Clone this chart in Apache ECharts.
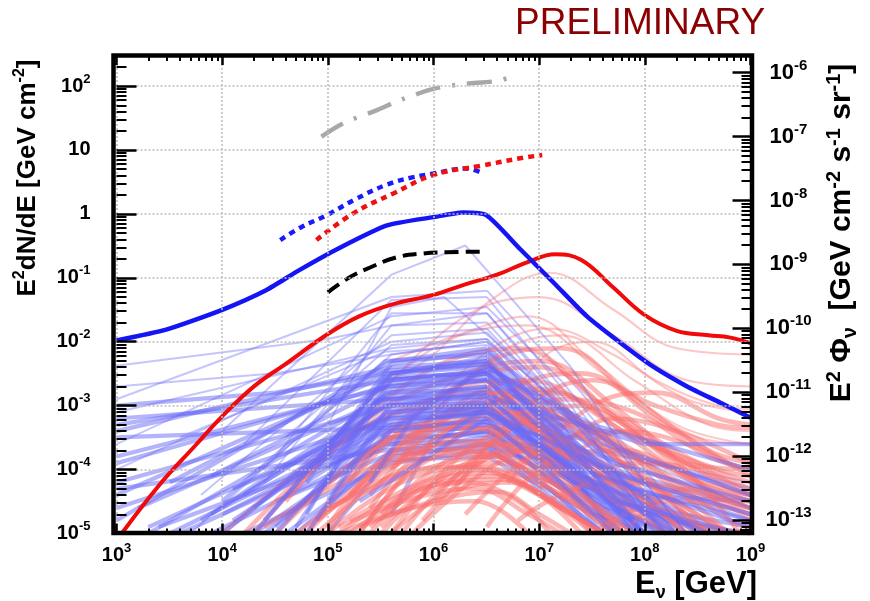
<!DOCTYPE html>
<html><head><meta charset="utf-8">
<script src="https://cdn.jsdelivr.net/npm/echarts@6/dist/echarts.min.js"></script>
<style>html,body{margin:0;padding:0;background:#fff}#c{width:870px;height:601px}</style>
</head><body><div id="c"></div>
<script>
// ---------- tick values ----------
const xTicks = [1e3, 1e4, 1e5, 1e6, 1e7, 1e8, 1e9];
const yTicks = [1e-5, 1e-4, 1e-3, 1e-2, 1e-1, 1, 10, 100];
const y2Ticks = [1e-13, 1e-12, 1e-11, 1e-10, 1e-9, 1e-8, 1e-7, 1e-6];

// ---------- main curves [E (GeV), E^2 dN/dE] ----------
const blueSolid = [[1e3,0.0105],[2950,0.0155],[1e4,0.0316],[26300,0.0646],[53700,0.132],[1.26e5,0.288],[3.63e5,0.66],[1e6,0.89],[1.9e6,1.05],[3.16e6,0.955],[6.6e6,0.282],[1.38e7,0.083],[2.82e7,0.0251],[5.9e7,0.00955],[1.2e8,0.00407],[2.51e8,0.002],[5.25e8,0.0011],[1e9,0.000646]];
const redSolid = [[1.12e3,1e-5],[2.51e3,5.6e-5],[5.6e3,2.4e-4],[1e4,6.8e-4],[2e4,2e-3],[4e4,4.5e-3],[1e5,0.0132],[2e5,0.0251],[4e5,0.038],[1e6,0.054],[2e6,0.079],[4e6,0.112],[7.9e6,0.178],[1.41e7,0.234],[2.51e7,0.19],[5e7,0.071],[1e8,0.026],[2e8,0.0148],[4e8,0.0126],[6.3e8,0.0117],[1e9,0.0095]];
const blackDashed = [[1e5,0.059],[1.58e5,0.1],[2.51e5,0.145],[4.47e5,0.209],[7.9e5,0.24],[1.32e6,0.251],[3.16e6,0.257]];
const blueDotted = [[3.55e4,0.39],[5.6e4,0.62],[9.8e4,0.955],[1.78e5,1.66],[3.63e5,2.88],[6.3e5,3.72],[1e6,4.27],[2e6,5.13],[2.88e6,4.37]];
const redDotted = [[7.8e4,0.39],[1.74e5,1.02],[4.17e5,2.09],[1e6,4.07],[2.75e6,5.62],[6.6e6,7.41],[1.07e7,8.32]];
const grayDashDot = [[8.7e4,16.2],[1.41e5,26.3],[2.88e5,41.7],[5e5,61.7],[1.02e6,91],[1.86e6,107],[3.98e6,120],[5.9e6,145]];

// ---------- individual source spectra (thin lines) ----------
const blueSources = [
 [[1e3,4.2e-3],[1e5,1.1e-2],[4e5,1.8e-2],[3.2e6,2.8e-2],[2e7,1e-3],[1.26e8,1e-5]],
 [[1e3,1.26e-3],[4e5,5e-2],[3.2e6,6.3e-2],[2.5e7,1.6e-3],[3.2e8,1e-5]],
 [[1e3,7.9e-4],[4e5,7.9e-3],[3.2e6,1.1e-2],[4e7,2.5e-4],[1e9,2.5e-5]],
 [[1e3,4e-4],[4e5,4e-3],[3.2e6,5e-3],[3.2e7,1e-4],[1.6e8,1e-5]],
 [[1e3,2.5e-4],[4e5,2.5e-2],[3.2e6,3.5e-2],[1.6e7,2.5e-3],[1e8,6.3e-5],[2.5e8,1e-5]],
 [[1e3,1.6e-4],[4e5,2e-3],[3.2e6,3.2e-3],[2e7,1.26e-4],[1e8,1e-5]],
 [[1e3,1e-4],[4e5,1e-2],[3.2e6,1.4e-2],[2.5e7,4e-4],[3.2e8,1e-5]],
 [[1e3,6.3e-5],[4e5,1e-3],[3.2e6,1.6e-3],[4e7,1e-4],[1e9,1.6e-5]],
 [[1e3,4e-5],[4e5,3.2e-3],[3.2e6,5e-3],[1.6e7,2.5e-4],[7.9e7,1e-5]],
 [[1e3,2.5e-5],[4e5,6.3e-4],[3.2e6,1e-3],[3.2e7,5e-5],[1.26e8,1e-5]],
 [[1e3,1.6e-5],[4e5,5e-3],[3.2e6,7.9e-3],[2e7,3.2e-4],[1.6e8,1e-5]],
 [[1e3,2e-3],[3.2e4,3.2e-3],[4e5,6.3e-3],[3.2e6,1e-2],[6.3e7,1.6e-4],[1e9,6.3e-5]],
 [[1e3,5e-4],[4e5,2.5e-3],[3.2e6,3.5e-3],[5e7,1.26e-4],[1e9,3.2e-5]],
 [[2e3,1e-5],[4e5,1.6e-3],[3.2e6,2.5e-3],[2.5e7,1e-4],[1e8,1e-5]],
 [[3.2e3,1e-5],[4e5,5e-4],[3.2e6,7.9e-4],[4e7,5e-5],[2e8,1e-5]],
 [[5e3,1e-5],[4e5,6.3e-3],[3.2e6,1e-2],[1.6e7,4e-4],[7.9e7,1e-5]],
 [[7.9e3,1e-5],[4e5,2.5e-4],[3.2e6,4e-4],[2e7,4e-5],[6.3e7,1e-5]],
 [[1e4,1e-5],[4e5,1.26e-3],[3.2e6,2e-3],[3.2e7,1e-4],[2.5e8,1e-5]],
 [[1.6e4,1e-5],[4e5,1.26e-4],[3.2e6,2e-4],[4e7,2.5e-5],[1.6e8,1e-5]],
 [[2e4,1e-5],[4e5,3.2e-3],[3.2e6,5.6e-3],[1e7,6.3e-4],[5e7,1e-5]],
 [[2.5e4,1e-5],[4e5,4e-4],[3.2e6,6.3e-4],[1.6e7,6.3e-5],[5e7,1e-5]],
 [[3.2e4,1e-5],[4e5,1e-3],[3.2e6,1.26e-3],[4e7,7.9e-5],[6.3e8,1e-5]],
 [[5e4,1e-5],[4e5,2e-4],[3.2e6,3.2e-4],[3.2e7,3.2e-5],[2e8,1e-5]],
 [[6.3e4,1e-5],[4e5,7.9e-4],[3.2e6,1.1e-3],[2e7,1e-4],[1e8,1e-5]],
 [[1e5,1e-5],[4e5,1.6e-4],[3.2e6,2.5e-4],[1e7,5e-5],[4e7,1e-5]],
 [[4e3,1e-5],[4e5,3.2e-4],[3.2e6,5e-4],[5e7,3.2e-5],[1e9,1.26e-5]],
 [[1e4,4e-4],[4e5,0.112],[2e6,0.32],[2e7,4e-3],[1e8,6.3e-5],[2.5e8,1e-5]],
 [[1.6e4,2.5e-4],[4e5,4.5e-2],[3.2e6,5e-2],[2e7,1.26e-3],[2e8,1e-5]],
 [[3.2e4,1.6e-4],[4e5,2.8e-2],[3.2e6,2.8e-2],[1.6e7,1.26e-3],[1e8,2.5e-5]],
 [[2.5e4,6.3e-5],[4e5,1.8e-2],[3.2e6,2e-2],[2.5e7,5e-4],[2e8,1e-5]],
 [[6.3e3,4e-5],[4e5,1.26e-2],[3.2e6,1.6e-2],[2e7,6.3e-4],[1.6e8,1e-5]],
 [[1e5,5e-4],[4e5,3.5e-2],[1.26e6,5e-2],[1e7,2.5e-3],[7.9e7,5e-5]],
 [[4e4,3.2e-4],[4e5,8.9e-3],[3.2e6,1.1e-2],[1.26e7,1e-3],[7.9e7,1e-5]],
 [[7.9e4,1.26e-4],[4e5,4.5e-3],[3.2e6,7e-3],[4e7,2.5e-4],[1e9,4e-5]],
 [[1e5,1e-4],[4e5,2.5e-3],[3.2e6,3.5e-3],[1.6e7,3.2e-4],[7.9e7,1.6e-5]],
 [[2e4,2.5e-5],[4e5,1.8e-3],[3.2e6,2.5e-3],[2.5e7,1.6e-4],[4e8,1e-5]],
 [[7.9e3,2e-5],[4e5,1.1e-3],[3.2e6,1.4e-3],[1.6e7,1.26e-4],[1e8,1e-5]],
 [[1.26e4,1.6e-5],[4e5,7e-4],[3.2e6,8.9e-4],[3.2e7,6.3e-5],[2.5e8,1e-5]],
 [[4e4,4e-5],[4e5,4.5e-4],[3.2e6,5.6e-4],[2e7,6.3e-5],[7.9e7,1e-5]],
 [[2.5e3,1.26e-5],[4e5,2.8e-4],[3.2e6,4e-4],[4e7,4e-5],[4e8,1e-5]],
 [[3.2e4,3.2e-5],[4e5,1.8e-4],[3.2e6,2.2e-4],[1.26e7,5e-5],[4e7,1e-5]],
 [[6.3e4,2e-5],[4e5,3.2e-3],[3.2e6,4.5e-3],[4e7,2e-4],[1e9,5e-5]],
 [[1.26e4,5e-5],[4e5,5.6e-4],[3.2e6,7.9e-4],[6.3e7,7.9e-5],[1e9,2e-5]],
 [[1.6e3,2.5e-5],[4e5,1.4e-3],[3.2e6,2e-3],[1e7,2e-4],[6.3e7,1e-5]],
 [[5e4,7.9e-5],[4e5,8.9e-4],[3.2e6,1e-3],[5e7,3.2e-5],[7.9e8,1e-5]],
 [[7.9e3,7.9e-5],[4e5,2.2e-3],[3.2e6,2.8e-3],[7.9e6,5e-4],[5e7,1.26e-5]],
 [[3.2e5,3.2e-4],[3.2e6,4e-3],[3.2e7,5e-4],[1e9,1e-4]],
 [[2e5,3.2e-5],[3.2e6,6.3e-4],[6.3e7,1.26e-4],[1e9,2.5e-5]],
 [[1e6,2.5e-4],[4e6,1.26e-3],[1e8,2.5e-4],[1e9,2.5e-4]],
 [[1e4,3.2e-5],[3.5e5,5e-3],[3.2e6,6.3e-3],[2e7,2.5e-4],[1e8,1e-5]],
 [[3.2e3,6.3e-5],[3.5e5,3.5e-3],[3.2e6,4.5e-3],[3.2e7,1.26e-4],[3.2e8,1e-5]],
 [[2.5e4,1.6e-5],[3.5e5,2.5e-3],[3.2e6,3.2e-3],[1.26e7,2.5e-4],[5e7,1e-5]],
 [[1e3,1.26e-4],[3.5e5,2e-3],[3.2e6,2.5e-3],[4e7,6.3e-5],[2e8,1e-5]],
 [[5e4,1.26e-5],[3.5e5,1.6e-3],[3.2e6,1.8e-3],[1.6e7,1.6e-4],[1e8,1e-5]],
 [[6.3e3,1.6e-5],[3.5e5,1.26e-3],[3.2e6,1.4e-3],[2.5e7,7.9e-5],[4e8,1e-5]],
 [[1.6e4,4e-5],[3.5e5,1e-3],[3.2e6,1.1e-3],[1e7,1.6e-4],[4e7,1e-5]],
 [[1e5,3.2e-5],[3.5e5,7.9e-4],[3.2e6,8.9e-4],[3.2e7,4e-5],[1.6e8,1e-5]],
 [[2e3,1.26e-5],[3.5e5,6.3e-4],[3.2e6,7e-4],[2e7,6.3e-5],[1e8,1e-5]],
 [[3.2e4,1.26e-5],[3.5e5,5e-4],[3.2e6,5.6e-4],[4e7,3.2e-5],[6.3e8,1e-5]],
 [[1e4,2e-5],[3.5e5,4e-4],[3.2e6,4.5e-4],[1.6e7,5e-5],[6.3e7,1e-5]],
 [[7.9e4,1.6e-5],[3.5e5,3.2e-4],[3.2e6,3.5e-4],[2.5e7,3.2e-5],[1e8,1e-5]],
 [[2e4,1e-5],[3.5e5,2.5e-4],[3.2e6,2.8e-4],[1.26e7,5e-5],[4e7,1e-5]],
 [[4e4,1e-5],[3.5e5,1.4e-4],[3.2e6,1.6e-4],[3.2e7,2e-5],[1e8,1e-5]],
 [[4e3,3.2e-4],[3.5e5,7e-3],[3.2e6,8.9e-3],[1.6e7,6.3e-4],[2e8,1e-5]],
 [[1e3,1e-3],[3.2e4,1.6e-3],[3.5e5,3.2e-3],[3.2e6,4e-3],[6.3e7,2e-4],[1e9,4e-5]],
 [[1e3,6.3e-4],[3.5e5,1.26e-3],[3.2e6,1.6e-3],[5e7,1e-4],[1e9,2.5e-5]],
 [[1e3,3.2e-4],[3.5e5,4.5e-4],[3.2e6,5e-4],[1e8,6.3e-5],[1e9,2e-5]],
 [[1e3,5e-5],[3.5e5,2e-4],[3.2e6,2.5e-4],[1.6e8,1.6e-5],[1e9,1e-5]],
 [[2.5e5,6.3e-5],[6.3e5,6.3e-4],[3.2e6,7.9e-4],[2.5e7,1e-4],[1e9,1.26e-5]],
 [[4e5,2e-5],[1e6,3.2e-4],[3.2e6,4e-4],[6.3e7,4e-5],[1e9,3.2e-5]],
 [[6.3e4,6.3e-5],[3.5e5,2.8e-3],[3.2e6,3.2e-3],[7.9e7,5e-5],[1e9,1.6e-5]]
];
const redSources = [
 [[4e5,2.5e-3],[1e6,6.3e-3],[3.2e6,4e-2],[1.26e7,0.12],[5e7,3.2e-2],[2e8,7.9e-3],[1e9,6.3e-3]],
 [[3.2e5,1.6e-3],[2e6,2.5e-2],[1e7,5e-2],[5e7,1.26e-2],[2.5e8,2.5e-3],[1e9,2e-3]],
 [[1e5,2.5e-4],[1e6,7.9e-3],[7.9e6,1.8e-2],[4e7,3.2e-3],[3.2e8,3.2e-4],[1e9,2.5e-4]],
 [[4e4,3.2e-5],[6.3e5,2.5e-3],[6.3e6,7.9e-3],[4e7,1e-3],[3.2e8,1.26e-4],[1e9,6.3e-5]],
 [[1.6e5,6.3e-5],[1.6e6,2e-3],[1e7,4e-3],[6.3e7,5e-4],[4e8,5e-5],[1e9,2.5e-5]],
 [[6.3e4,1e-5],[6.3e5,7.9e-4],[5e6,2.5e-3],[3.2e7,4e-4],[2e8,3.2e-5],[6.3e8,1e-5]],
 [[1e5,1e-5],[1e6,6.3e-4],[7.9e6,1.26e-3],[5e7,2.5e-4],[4e8,4e-5],[1e9,3.2e-5]],
 [[2e5,1e-5],[1.6e6,5e-4],[1.26e7,1.6e-3],[7.9e7,3.2e-4],[5e8,1e-4],[1e9,7.9e-5]],
 [[3.2e4,1e-5],[4e5,3.2e-4],[3.2e6,7.9e-4],[2e7,2e-4],[1.6e8,2e-5],[3.2e8,1e-5]],
 [[4e5,1e-5],[2.5e6,2.5e-4],[1.6e7,6.3e-4],[1e8,1.26e-4],[6.3e8,1.6e-5],[1e9,1.26e-5]],
 [[7.9e4,1.6e-5],[7.9e5,2e-4],[6.3e6,5e-4],[4e7,1.26e-4],[2e8,2e-5],[4e8,1e-5]],
 [[2.5e5,4e-5],[2e6,1e-3],[1e7,1.8e-3],[5e7,6.3e-4],[2.5e8,1.26e-4],[1e9,1e-4]],
 [[1e6,3.2e-5],[5e6,4e-4],[2.5e7,1e-3],[1.26e8,2.5e-4],[6.3e8,5e-5],[1e9,4e-5]],
 [[6.3e5,1e-5],[4e6,1.26e-4],[2e7,3.2e-4],[1e8,6.3e-5],[4e8,1e-5]],
 [[2.5e4,1.26e-5],[3.2e5,1.26e-4],[2.5e6,2.8e-4],[1.26e7,1e-4],[6.3e7,1e-5]],
 [[1e5,2.5e-5],[7.9e5,1e-4],[4e6,1.6e-4],[2e7,5e-5],[7.9e7,1e-5]],
 [[1.6e5,1e-5],[7.9e5,5e-5],[4e6,7.9e-5],[1.6e7,2.5e-5],[4e7,1e-5]],
 [[2e5,1.26e-5],[1e6,3.2e-5],[4e6,4.5e-5],[1e7,2e-5],[2e7,1e-5]],
 [[1.26e5,1e-5],[6.3e5,2.5e-5],[2.5e6,3.2e-5],[7.9e6,1e-5]],
 [[5e4,1e-5],[4e5,7.9e-5],[2e6,1.1e-4],[1e7,4e-5],[4e7,1e-5]],
 [[3.2e5,2e-5],[1.6e6,1.6e-4],[7.9e6,2.5e-4],[4e7,7.9e-5],[2.5e8,1.6e-5],[1e9,1e-5]],
 [[1.6e6,5e-5],[7.9e6,1e-3],[3.2e7,2.5e-3],[1.26e8,1e-3],[5e8,5e-4],[1e9,4.5e-4]],
 [[2.5e6,1.26e-4],[1e7,5e-3],[3.2e7,1e-2],[1.26e8,2.5e-3],[5e8,1e-3],[1e9,8.9e-4]],
 [[7.9e5,5e-4],[4e6,6.3e-3],[1.6e7,1.26e-2],[7.9e7,2.5e-3],[4e8,5e-4],[1e9,4e-4]],
 [[4e6,2.5e-4],[1.6e7,1.26e-3],[7.9e7,7.9e-4],[4e8,1.6e-4],[1e9,1e-4]],
 [[5e5,1.6e-4],[3.2e6,4.5e-3],[1.6e7,7.9e-3],[7.9e7,1.26e-3],[4e8,2e-4],[1e9,1.26e-4]],
 [[2e6,2e-5],[1e7,2e-4],[5e7,4e-4],[2.5e8,1.26e-4],[1e9,5e-5]],
 [[1.6e4,1e-5],[2.5e5,6.3e-4],[2e6,3.2e-3],[1e7,5e-3],[5e7,1e-3],[3.2e8,6.3e-5],[7.9e8,1e-5]],
 [[4e5,5e-3],[2e6,1.4e-2],[7.9e6,2.5e-2],[3.2e7,5e-3],[2e8,5e-4],[1e9,2.5e-4]],
 [[1e4,1e-5],[1e5,2e-4],[6.3e5,1e-3],[3.2e6,1.6e-3],[2e7,5e-4],[1.26e8,5e-5],[4e8,1e-5]],
 [[2.5e5,1e-5],[1e6,7.9e-5],[4e6,1.26e-4],[1.6e7,4e-5],[5e7,1e-5]],
 [[1.6e5,1.6e-5],[7.9e5,6.3e-5],[3.2e6,1e-4],[1.26e7,3.2e-5],[3.2e7,1e-5]],
 [[4e5,1e-5],[1.26e6,4e-5],[5e6,6.3e-5],[2e7,2e-5],[4e7,1e-5]],
 [[7.9e4,1e-5],[5e5,1e-4],[2.5e6,1.8e-4],[1e7,7.9e-5],[6.3e7,1.26e-5]],
 [[1e5,1.26e-5],[6.3e5,3.5e-4],[4e6,6.3e-4],[2.5e7,1.26e-4],[1.6e8,1e-5]],
 [[3.2e5,1e-5],[1.6e6,1e-4],[6.3e6,2e-4],[3.2e7,6.3e-5],[2e8,1e-5]],
 [[1e7,1e-4],[5e7,6.3e-4],[2e8,4e-4],[1e9,1.26e-4]],
 [[1.6e7,3.2e-5],[7.9e7,1.26e-4],[3.2e8,1e-4],[1e9,4e-5]],
 [[6.3e6,1.6e-5],[4e7,6.3e-5],[2e8,5e-5],[1e9,2e-5]],
 [[3.2e7,1e-5],[1.6e8,3.2e-5],[6.3e8,2.5e-5],[1e9,1.6e-5]],
 [[6.3e4,1e-5],[3.2e5,1e-4],[1.6e6,2e-4],[7.9e6,1e-4],[4e7,1.6e-5],[6.3e7,1e-5]],
 [[1e5,1e-5],[5e5,6.3e-5],[2.5e6,1.1e-4],[1.26e7,5e-5],[5e7,1e-5]],
 [[2e5,1e-5],[7.9e5,1.26e-4],[4e6,2.5e-4],[2e7,7.9e-5],[1.6e8,1e-5]],
 [[4e4,1.6e-5],[3.2e5,2.5e-4],[2e6,4.5e-4],[1e7,2e-4],[6.3e7,2.5e-5],[1.6e8,1e-5]],
 [[3.2e5,1.26e-5],[1e6,5e-5],[4e6,7e-5],[1.6e7,2.8e-5],[3.2e7,1e-5]],
 [[1.26e5,1.26e-5],[6.3e5,3.5e-5],[2.5e6,5e-5],[7.9e6,2e-5],[1.6e7,1e-5]],
 [[5e5,1e-5],[2e6,1e-4],[1e7,2e-4],[5e7,6.3e-5],[2.5e8,1e-5]],
 [[2e4,1e-5],[2e5,4e-4],[1.6e6,1e-3],[7.9e6,6.3e-4],[4e7,1e-4],[2.5e8,1e-5]],
 [[7.9e5,1.6e-5],[4e6,2e-4],[2e7,5e-4],[1e8,1.6e-4],[6.3e8,3.2e-5],[1e9,2.5e-5]],
 [[3.2e6,1.26e-5],[1.26e7,1.26e-4],[6.3e7,2e-4],[3.2e8,6.3e-5],[1e9,3.2e-5]],
 [[1.26e6,2e-4],[6.3e6,2e-3],[2.5e7,3.2e-3],[1.26e8,6.3e-4],[6.3e8,1.26e-4],[1e9,1e-4]],
 [[2.5e5,2.5e-5],[1.26e6,4e-4],[6.3e6,7.9e-4],[3.2e7,2.5e-4],[2e8,3.2e-5],[6.3e8,1e-5]],
 [[4e5,1e-4],[2e6,1.26e-3],[7.9e6,2.5e-3],[4e7,6.3e-4],[2.5e8,7.9e-5],[1e9,4e-5]],
 [[1e7,5e-5],[6.3e7,4e-4],[2.5e8,2.5e-4],[1e9,7.9e-5]],
 [[6.3e7,1e-5],[2.5e8,5e-5],[1e9,3.2e-5]],
 [[5e6,6.3e-5],[3.2e7,1e-3],[1.26e8,1.6e-3],[5e8,6.3e-4],[1e9,5e-4]],
 [[1.6e5,4e-5],[1e6,5e-4],[5e6,1.1e-3],[2.5e7,5e-4],[1.6e8,6.3e-5],[6.3e8,1e-5]],
 [[1e6,1.26e-3],[4e6,8.9e-3],[1.26e7,1.6e-2],[5e7,6.3e-3],[2.5e8,1.26e-3],[1e9,7.9e-4]],
 [[1.26e5,1e-5],[5e5,4e-5],[2e6,6.3e-5],[6.3e6,3.2e-5],[1.26e7,1e-5]],
 [[2.5e5,1.26e-5],[1e6,6.3e-5],[3.2e6,8.9e-5],[1e7,4e-5],[2.5e7,1e-5]]
];

// ---------- helpers ----------
const FONT = '"Liberation Sans", Arial, Helvetica, sans-serif';
function minorList(e0, e1, lo, hi) {
  const out = [];
  for (let e = e0; e <= e1; e++) for (let m = 2; m <= 9; m++) {
    const v = m * Math.pow(10, e);
    if (v > lo * 1.0001 && v < hi * 0.9999) out.push(v);
  }
  return out;
}
const X_MIN = 1e3, X_MAX = 1e9;
const Y_MIN = 1e-5, Y_MAX = 295;
const Y2_MIN = 6.17e-14, Y2_MAX = 1.82e-6;
const xMinor = minorList(3, 8, X_MIN, X_MAX);
const yMinor = minorList(-5, 2, Y_MIN, Y_MAX);
const y2Minor = minorList(-14, -6, Y2_MIN, Y2_MAX);

function mkRich(b, s) {
  return {
    b: {fontFamily: FONT, fontWeight: 'bold', fontSize: b, lineHeight: b + 7, color: '#000'},
    s: {fontFamily: FONT, fontWeight: 'bold', fontSize: s, lineHeight: s + 2, verticalAlign: 'top', color: '#000'}
  };
}
function powLabel(v, plain) {
  const e = Math.round(Math.log10(v));
  if (plain && e === 0) return '{b|1}';
  if (plain && e === 1) return '{b|10}';
  return '{b|10}{s|' + e + '}';
}
const gridLine = {show: true, lineStyle: {color: '#bdbdbd', width: 1.5, type: [2, 2]}};

function axisBase(min, max, pos) {
  return {type: 'log', logBase: 10, min: min, max: max, position: pos, z: 10,
    axisLine: {show: false}, splitLine: {show: false}, axisLabel: {show: false},
    axisTick: {show: false}, minorTick: {show: false}, minorSplitLine: {show: false}};
}
function withTicks(ax, values, len, width) {
  ax.axisTick = {show: true, inside: true, length: len, customValues: values,
    lineStyle: {color: '#000', width: width}};
  return ax;
}

const xMajor = withTicks(axisBase(X_MIN, X_MAX, 'bottom'), xTicks, 10, 2.5);
xMajor.axisLabel = {show: true, customValues: xTicks, margin: 8, formatter: v => powLabel(v, false), rich: mkRich(20, 13)};
xMajor.splitLine = gridLine;
const xMinorAx = withTicks(axisBase(X_MIN, X_MAX, 'bottom'), xMinor, 5, 2);
const xTopMajor = withTicks(axisBase(X_MIN, X_MAX, 'top'), xTicks, 9, 2.5);
const xTopMinor = withTicks(axisBase(X_MIN, X_MAX, 'top'), xMinor, 5, 2);

const yMajor = withTicks(axisBase(Y_MIN, Y_MAX, 'left'), yTicks, 20, 2.5);
yMajor.axisLabel = {show: true, customValues: yTicks, margin: 26, formatter: v => powLabel(v, true), rich: mkRich(20, 13)};
yMajor.splitLine = gridLine;
const yMinorAx = withTicks(axisBase(Y_MIN, Y_MAX, 'left'), yMinor, 10, 2);
const y2Major = withTicks(axisBase(Y2_MIN, Y2_MAX, 'right'), y2Ticks, 18, 2.5);
y2Major.axisLabel = {show: true, customValues: y2Ticks, margin: 38, align: 'center', formatter: v => powLabel(v, false), rich: mkRich(22, 15)};
const y2MinorAx = withTicks(axisBase(Y2_MIN, Y2_MAX, 'right'), y2Minor, 9, 2);

// ---------- series ----------
const series = [];
function addLine(data, style, z, smooth) {
  series.push({type: 'line', data: data, xAxisIndex: 0, yAxisIndex: 0, symbol: 'none',
    silent: true, smooth: smooth || false, z: z, lineStyle: style, emphasis: {disabled: true}});
}
function peak(d) { return Math.max.apply(null, d.map(p => p[1])); }
const KNEE = 3.2e6;
// isolated high spectra thin; crowded ones thicker so they merge as in the reference.
// rising/plateau part of brighter blue spectra above the pink ones; falling parts interleaved.
blueSources.forEach((d, i) => {
  const p = peak(d);
  const st = p > 8e-3 ? {color: 'rgba(110,110,250,0.4)', width: 2}
                      : {color: 'rgba(105,105,248,0.5)', width: 4.2};
  if (p >= 6e-4) {
    const k = d.findIndex(pt => pt[0] >= KNEE);
    if (k > 0 && k < d.length - 1) {
      addLine(d.slice(0, k + 1), st, 4, false);
      addLine(d.slice(k), st, i % 2 === 0 ? 4 : 2, false);
      return;
    }
    addLine(d, st, 4, false);
  } else {
    addLine(d, st, 2, false);
  }
});
redSources.forEach(d => addLine(d, peak(d) > 8e-3
  ? {color: 'rgba(250,115,115,0.4)', width: 2.2}
  : {color: 'rgba(250,110,110,0.5)', width: 4.6}, 3, 0.4));
addLine(grayDashDot, {color: '#a8a8a8', width: 4.5, type: [25, 12, 3, 12], cap: 'butt'}, 5, 0.3);
addLine(blueDotted, {color: '#1a1aff', width: 4.5, type: [6, 5], cap: 'butt'}, 5, 0.4);
addLine(redDotted, {color: '#f01010', width: 4.5, type: [6, 5], cap: 'butt'}, 5, 0.4);
addLine(blackDashed, {color: '#000', width: 4, type: [14, 7], cap: 'butt'}, 5, 0.4);
addLine(redSolid, {color: '#f00a0a', width: 4}, 6, 0.4);
addLine(blueSolid, {color: '#1414f5', width: 4.5}, 7, 0.2);

// ---------- titles ----------
function titleRich(a, s) {
  return {
    a: {fontFamily: FONT, fontWeight: 'bold', fontSize: a, lineHeight: a + 6, color: '#000'},
    s: {fontFamily: FONT, fontWeight: 'bold', fontSize: s, lineHeight: s + 2, verticalAlign: 'top', color: '#000'},
    u: {fontFamily: FONT, fontWeight: 'bold', fontSize: s, lineHeight: s + 2, verticalAlign: 'bottom', color: '#000'}
  };
}

const chart = echarts.init(document.getElementById('c'), null, {renderer: 'canvas'});
chart.setOption({
  animation: false,
  backgroundColor: '#fff',
  grid: {left: 116.5, right: 119.5, top: 56, bottom: 67.5, outerBoundsMode: 'none', containLabel: false},
  xAxis: [xMajor, xMinorAx, xTopMajor, xTopMinor],
  yAxis: [yMajor, yMinorAx, y2Major, y2MinorAx],
  series: series,
  graphic: [
    {type: 'rect', z: 100, silent: true, shape: {x: 113.5, y: 55.5, width: 638.5, height: 477.5},
      style: {fill: null, stroke: '#000', lineWidth: 4.5}},
    {type: 'text', z: 100, x: 515, y: 24, silent: true,
      style: {text: 'PRELIMINARY', font: '37px ' + FONT, fill: '#8b0000', align: 'left', verticalAlign: 'middle'}},
    {type: 'text', z: 100, x: 28, y: 178, rotation: Math.PI / 2, silent: true,
      style: {text: '{a|E}{s|2}{a|dN/dE [GeV cm}{s|-2}{a|]}', rich: titleRich(26, 16), align: 'center', verticalAlign: 'middle'}},
    {type: 'text', z: 100, x: 842, y: 233, rotation: Math.PI / 2, silent: true,
      style: {text: '{a|E}{s|2}{a| Φ}{u|ν}{a|  [GeV cm}{s|-2}{a| s}{s|-1}{a| sr}{s|-1}{a|]}', rich: titleRich(30, 20), align: 'center', verticalAlign: 'middle'}},
    {type: 'text', z: 100, x: 757, y: 584, silent: true,
      style: {text: '{a|E}{u|ν}{a| [GeV]}', rich: titleRich(31, 18), align: 'right', verticalAlign: 'middle'}}
  ]
});
</script>
</body></html>
